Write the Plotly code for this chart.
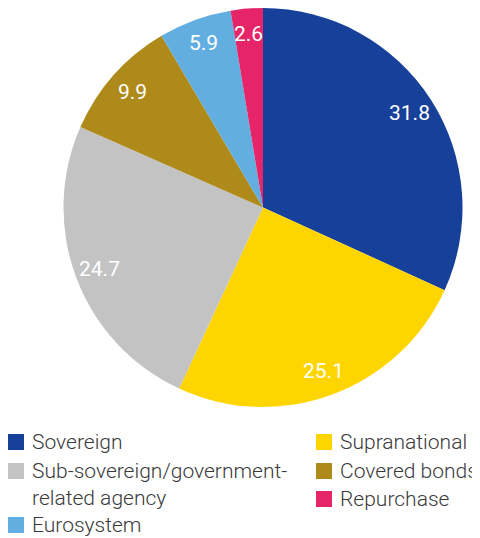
import math
import plotly.graph_objects as go

labels = ["Sovereign", "Supranational", "Sub-sovereign/government-<br>related agency",
          "Covered bonds", "Eurosystem", "Repurchase"]
values = [31.8, 25.1, 24.7, 9.9, 5.9, 2.6]
colors = ["#17409A", "#FFD500", "#C3C3C4", "#AE8A1A", "#62AEE0", "#E52567"]

# the page body adds an 8px margin before the figure; let it run to the window edge
OFF = 8
W, H = 480 - OFF, 538 - OFF
FONT = "Roboto"
TEXT_COLOR = "#3a3a3a"


def px(x):
    return (x - OFF) / W


def py(y):
    return 1 - (y - OFF) / H


# pie placement (screen pixels)
cx, cy, R = 263, 207.5, 199.5
dom = dict(x=[px(cx - R), px(cx + R)], y=[py(cy + R), min(1.0, py(cy - R))])

fig = go.Figure()
fig.add_trace(go.Pie(
    labels=labels,
    values=values,
    sort=False,
    direction="clockwise",
    rotation=0,
    marker=dict(colors=colors, line=dict(width=0)),
    textinfo="none",
    hoverinfo="label+value",
    domain=dom,
    showlegend=False,
))

# invisible unit axes aligned with the pie for placing the value labels
fig.update_xaxes(domain=dom["x"], range=[-1, 1], visible=False, fixedrange=True)
fig.update_yaxes(domain=dom["y"], range=[-1, 1], visible=False, fixedrange=True)

annotations = []
total = sum(values)
cum = 0.0
for v in values:
    theta = (cum + v / 2) / total * 2 * math.pi
    cum += v
    annotations.append(dict(xref="x", yref="y",
                            x=0.875 * math.sin(theta), y=0.875 * math.cos(theta),
                            text=f"{v:.1f}", showarrow=False,
                            xanchor="center", yanchor="middle",
                            font=dict(family=FONT, size=21, color="white")))

# custom two-column legend (screen pixels)
col_x = [8, 316]
rows_left = [442, 484, 525]
rows_right = [442, 471, 499]
shapes = []
for i, (lab, col) in enumerate(zip(labels, colors)):
    c = i % 2
    r = i // 2
    yc = rows_left[r] if c == 0 else rows_right[r]
    x0 = col_x[c]
    sq_y = yc - 13 if "<br>" in lab else yc
    shapes.append(dict(type="rect", xref="paper", yref="paper",
                       x0=px(x0), x1=px(x0 + 16),
                       y0=py(sq_y + 8), y1=py(sq_y - 8),
                       fillcolor=col, line=dict(width=0)))
    annotations.append(dict(xref="paper", yref="paper",
                            x=px(x0 + 22), y=py(yc),
                            xanchor="left", yanchor="middle", align="left",
                            text=lab, showarrow=False,
                            font=dict(family=FONT, size=21, color=TEXT_COLOR, weight=300)))

fig.update_layout(
    width=W, height=H,
    margin=dict(l=0, r=0, t=0, b=0),
    paper_bgcolor="white",
    plot_bgcolor="rgba(0,0,0,0)",
    showlegend=False,
    shapes=shapes,
    annotations=annotations,
)

fig.write_html("out.html")
